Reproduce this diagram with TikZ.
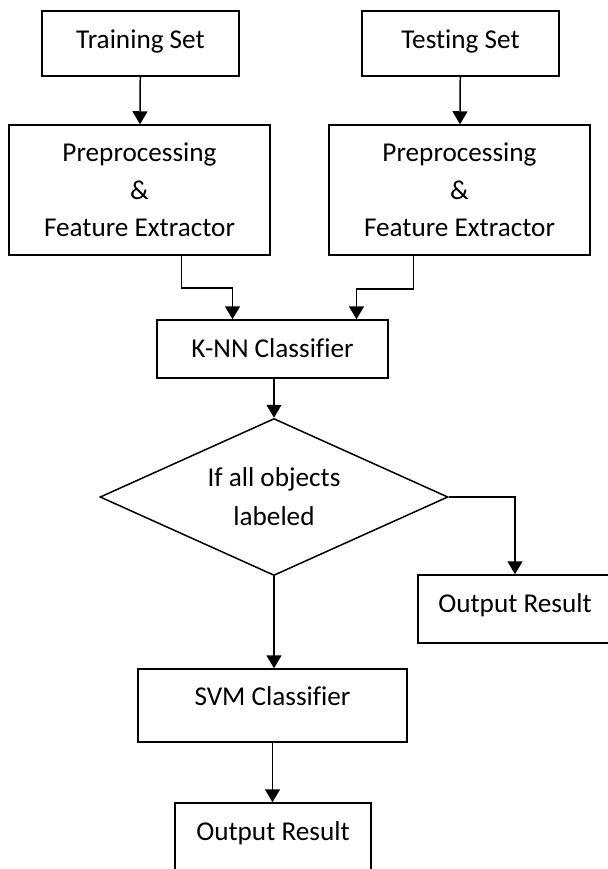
\documentclass[tikz,border=0pt]{standalone}
\usepackage{fontspec}
\setmainfont{Carlito}[Ligatures=NoCommon]
\usetikzlibrary{arrows.meta}
\usetikzlibrary{shapes.geometric}

\tikzset{
 block/.style={draw, line width=0.75pt, inner sep=0pt, align=center,
   font=\fontsize{13.6}{18.8}\selectfont, text height=9.5pt, text depth=2pt},
 multi/.style={draw, line width=0.75pt, inner sep=0pt, align=center,
   font=\fontsize{13.6}{18.8}\selectfont},
 decision/.style={diamond, shape aspect=2.2, draw, line width=0.75pt, inner sep=0pt, align=center,
   font=\fontsize{13.6}{19.5}\selectfont},
 arr/.style={line width=0.75pt, -{Triangle[width=7.5pt,length=6.5pt]}}
}

\begin{document}
\begin{tikzpicture}[x=0.5pt, y=-0.5pt]
\path[use as bounding box, clip] (0,0) rectangle (608,869);
\node[block, minimum width=98.5pt, minimum height=32.5pt, text depth=5pt] (train) at (140.5,43.5) {Training Set};
\node[block, minimum width=98.5pt, minimum height=32.5pt, text depth=5pt] (test) at (460.5,43.5) {Testing Set};
\node[multi, minimum width=130.5pt, minimum height=65pt] (prepL) at (139.5,190) {Preprocessing\\\&\\Feature Extractor};
\node[multi, minimum width=130.5pt, minimum height=65pt] (prepR) at (459.5,190) {Preprocessing\\\&\\Feature Extractor};
\node[block, minimum width=115.5pt, minimum height=29pt, text depth=1.5pt] (knn) at (272.5,349) {K-NN Classifier};
\node[decision, minimum width=174pt, minimum height=78.5pt] (dec) at (274,497) {If all objects\\labeled};
\node[block, minimum width=97pt, minimum height=34pt, text depth=6.5pt] (outR) at (515,609) {Output Result};
\node[block, minimum width=134.5pt, minimum height=36.5pt, text depth=10pt] (svm) at (272.5,705.5) {SVM Classifier};
\node[block, minimum width=98pt, minimum height=38pt, text depth=10pt] (outB) at (273,841) {Output Result};

\draw[arr] (train) -- (prepL);
\draw[arr] (test) -- (prepR);
\draw[arr] ([xshift=21pt]prepL.south) -- ++(0,32) -| ([xshift=-20pt]knn.north);
\draw[arr] ([xshift=-23pt]prepR.south) -- ++(0,33) -| ([xshift=42pt]knn.north);
\draw[arr] (knn.south -| dec.north) -- (dec.north);
\draw[arr] (dec.east) -| (outR.north);
\draw[arr] (dec.south) -- (dec.south |- svm.north);
\draw[arr] (svm) -- (svm.south |- outB.north);
\end{tikzpicture}
\end{document}
